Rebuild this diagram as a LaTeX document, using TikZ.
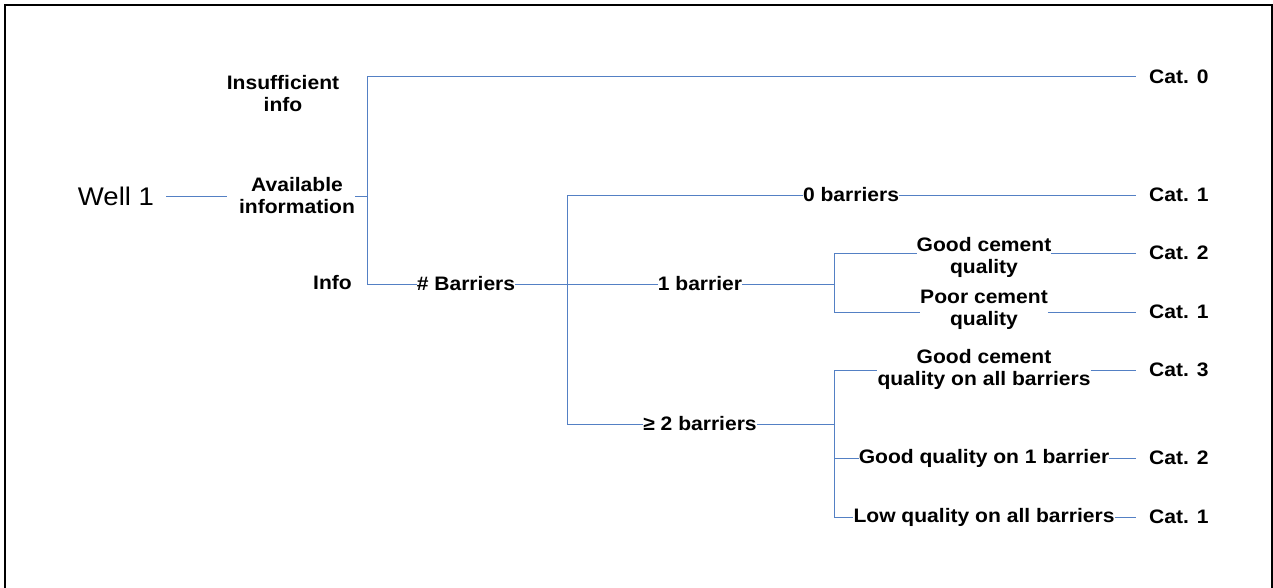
\documentclass[tikz,border=0pt]{standalone}
\usepackage{fontspec}
\setmainfont{Liberation Sans}[FakeStretch=1.08]
\definecolor{lineblue}{RGB}{84,128,196}
\newcommand\lblfont{\bfseries\fontsize{19.5}{22}\selectfont}
\newcommand\wellfont{\fontsize{25.5}{29}\selectfont}
\begin{document}
\begin{tikzpicture}[x=1pt,y=-1pt,
  br/.style={draw=lineblue, line width=1pt},
  lbl/.style={font=\lblfont, inner sep=0pt, align=center},
  cat/.style={lbl, anchor=west},
  catlink/.style={br, shorten >=13pt},
]
\useasboundingbox (0,0) rectangle (1273,588);
\fill[white] (0,0) rectangle (1273,588);

% open frame (left, top, right)
\draw[line width=2.3pt] (5,588) -- (5,5) -- (1272,5) -- (1272,588);

% decision labels
\node[lbl, font=\wellfont] (well) at (116,196) {Well 1};
\node[lbl] (avail) at (297,196) {Available\\information};
\node[lbl] (insuf) at (283,94) {Insufficient\\info};
\node[lbl, anchor=east] (info) at (352,283) {Info};
\node[lbl] (nbar) at (466,284) {\# Barriers};
\node[lbl] (b0) at (851,195) {0 barriers};
\node[lbl] (b1) at (700,284) {1 barrier};
\node[lbl] (b2) at (700,424) {≥ 2 barriers};
\node[lbl] (gq) at (984,257) {Good cement\\quality};
\node[lbl] (pq) at (984,310) {Poor cement\\quality};
\node[lbl] (ga) at (984,369) {Good cement\\quality on all barriers};
\node[lbl] (g1) at (984,458) {Good quality on 1 barrier};
\node[lbl] (la) at (984,517) {Low quality on all barriers};

% outcome categories
\node[cat] (c0) at (1149,77) {Cat. 0};
\node[cat] (c1) at (1149,195) {Cat. 1};
\node[cat] (c2) at (1149,253) {Cat. 2};
\node[cat] (c3) at (1149,312) {Cat. 1};
\node[cat] (c4) at (1149,370) {Cat. 3};
\node[cat] (c5) at (1149,458) {Cat. 2};
\node[cat] (c6) at (1149,517) {Cat. 1};

% branch points
\coordinate (ja) at (367,196);
\coordinate (jb) at (567,284);
\coordinate (jc) at (834,284);
\coordinate (jd) at (834,424);

% first level
\draw[br, shorten <=12pt, shorten >=12pt] (well) -- (avail);
\draw[br] (avail.east) -- (ja);
\draw[catlink] (ja) |- (c0);
\draw[br] (ja) |- (nbar);

% number of barriers
\draw[br] (nbar) -- (jb);
\draw[br] (jb) |- (b0);
\draw[catlink] (b0) -- (c1);
\draw[br] (jb) -- (b1);
\draw[br] (jb) |- (b2);

% one barrier
\draw[br] (b1) -- (jc);
\draw[br] (jc) |- (gq.west |- c2);
\draw[catlink] (gq.east |- c2) -- (c2);
\draw[br] (jc) |- (pq.west |- c3);
\draw[catlink] (pq.east |- c3) -- (c3);

% two or more barriers
\draw[br] (b2) -- (jd);
\draw[br] (jd) |- (ga.west |- c4);
\draw[catlink] (ga.east |- c4) -- (c4);
\draw[br] (jd) |- (g1);
\draw[catlink] (g1) -- (c5);
\draw[br] (jd) |- (la);
\draw[catlink] (la) -- (c6);
\end{tikzpicture}
\end{document}
